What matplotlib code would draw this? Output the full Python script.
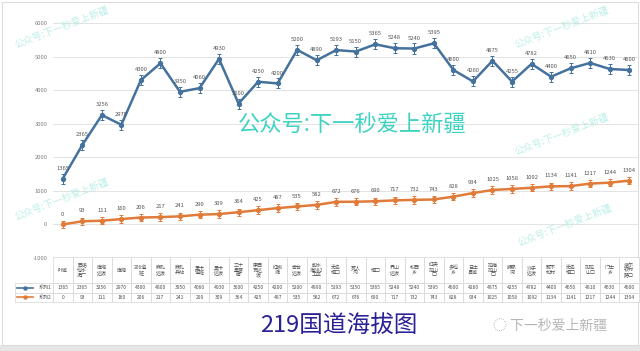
import matplotlib
matplotlib.use("Agg")
import matplotlib.pyplot as plt
from matplotlib.table import Table
from matplotlib.patches import Rectangle
import numpy as np

plt.rcParams['font.family'] = ['Noto Sans CJK SC', 'DejaVu Sans']

places = ['叶城', '西诺\n玛水\n泥厂', '库地\n达坂', '库地', '206道\n班', '麻扎\n达坂', '麻扎\n兵站',
          '黑卡\n道班', '黑卡\n达坂', '三十\n里营\n房', '康西\n瓦达\n坂', '红柳\n滩', '奇台\n达坂',
          '甜水\n海582\n工区', '无名\n垭口', '死人\n沟', '垭口', '界山\n达坂', '松西\n乡',
          '红央\n拉山\n口', '多玛\n乡', '日土\n县城', '拉梅\n拉山\n口', '狮泉\n河', '沙子\n达坂',
          '那不\n如村', '无名\n垭口', '加拉\n山口', '门士\n乡', '塔尔\n钦村\n路口']
altitude = [1365, 2365, 3256, 2970, 4300, 4800, 3950, 4060, 4930, 3600, 4250, 4200, 5200, 4890,
            5193, 5150, 5365, 5248, 5240, 5395, 4600, 4260, 4875, 4255, 4782, 4400, 4650, 4810,
            4630, 4600]
distance = [0, 93, 111, 160, 206, 217, 241, 290, 309, 364, 425, 487, 535, 582, 672, 676, 690,
            717, 732, 743, 828, 934, 1025, 1058, 1092, 1134, 1141, 1217, 1244, 1304]
series_names = ['系列1', '系列2']
yticks = [-1000, 0, 1000, 2000, 3000, 4000, 5000, 6000]

blue = '#44729d'
orange = '#e07b39'
W, H = 640, 351

fig = plt.figure(figsize=(6.4, 3.51), dpi=100)
fig.patch.set_facecolor('white')

# page frame and gray strip at bottom
fig.patches.append(Rectangle((0, 0), 1, 6 / H, transform=fig.transFigure,
                             facecolor='#e6e6e6', edgecolor='none', zorder=-10))
fig.patches.append(Rectangle((2 / W, 6 / H), 636 / W, 343 / H, transform=fig.transFigure,
                             facecolor='white', edgecolor='#dcdcdc', lw=0.8, zorder=-10))

ax = fig.add_axes([53 / W, 1 - 258 / H, 586 / W, 235 / H])
ax.set_facecolor('none')
x = np.arange(len(places))

ax.errorbar(x, altitude, yerr=150, color=blue, marker='o', ms=2.8, lw=1.8,
            elinewidth=0.7, capsize=1.6, capthick=0.7, zorder=3)
ax.errorbar(x, distance, yerr=110, color=orange, marker='o', ms=2.8, lw=1.8,
            elinewidth=0.7, capsize=1.6, capthick=0.7, zorder=3)

for xi, v in zip(x, altitude):
    ax.annotate(str(v), (xi, v), xytext=(0, 7.5), textcoords='offset points',
                ha='center', va='center', fontsize=4.2, color='#555555', zorder=4)
for xi, v in zip(x, distance):
    ax.annotate(str(v), (xi, v), xytext=(0, 7.5), textcoords='offset points',
                ha='center', va='center', fontsize=4.2, color='#555555', zorder=4)

ax.set_xlim(-0.5, len(places) - 0.5)
ax.set_ylim(-1000, 6000)
ax.set_yticks(yticks)
ax.set_yticklabels([str(t) for t in yticks], fontsize=4.2, color='#7f7f7f')
ax.set_xticks([])
ax.tick_params(axis='y', length=0, pad=4)
for s in ax.spines.values():
    s.set_visible(False)
ax.grid(axis='y', color='#dedede', lw=0.6)
ax.set_axisbelow(True)

# data table under the plot
aw, ah = 586.0, 235.0
tbl = Table(ax, bbox=[(15 - 53) / aw, (258 - 302) / ah, 624 / aw, 45 / ah])
col_w = 586 / len(places)
row_h = [26, 9.5, 9.5]
corner = tbl.add_cell(0, 0, width=38, height=row_h[0], text='')
corner.visible_edges = 'open'
for j, p in enumerate(places):
    tbl.add_cell(0, j + 1, width=col_w, height=row_h[0], text=p, loc='center')
for i, (name, vals) in enumerate(zip(series_names, [altitude, distance])):
    tbl.add_cell(i + 1, 0, width=38, height=row_h[i + 1], text=name, loc='right')
    for j, v in enumerate(vals):
        tbl.add_cell(i + 1, j + 1, width=col_w, height=row_h[i + 1], text=str(v), loc='center')
tbl.auto_set_font_size(False)
tbl.set_fontsize(3.6)
for (r, cidx), cell in tbl.get_celld().items():
    cell.set_edgecolor('#d4d4d4')
    cell.set_linewidth(0.5)
    cell.PAD = 0.04
    cell.get_text().set_color('#505050')
    cell.get_text().set_linespacing(0.95)
ax.add_table(tbl)

# legend keys inside the row header cells
for yc, col in [(287.5, blue), (297, orange)]:
    yy = (258 - yc) / ah
    ax.plot([(17 - 53) / aw, (33 - 53) / aw], [yy, yy], color=col, lw=1.2,
            transform=ax.transAxes, clip_on=False)
    ax.plot([(25 - 53) / aw], [yy], color=col, marker='o', ms=2.2,
            transform=ax.transAxes, clip_on=False)

# title and watermarks
fig.text(339 / W, 1 - 325 / H, '219国道海拔图', ha='center', va='center',
         fontsize=17, color='#2b2196')
fig.text(550 / W, 1 - 326 / H, '\u25cc 下一秒爱上新疆', ha='center', va='center',
         fontsize=10, color='#b5b5b5')
fig.text(352 / W, 1 - 124 / H, '公众号:下一秒爱上新疆', ha='center', va='center',
         fontsize=16, color='#3ed3c1', zorder=5)
for cx, cy in [(62, 27), (62, 199), (562, 27), (562, 134), (565, 225)]:
    fig.text(cx / W, 1 - cy / H, '公众号:下一秒爱上新疆', ha='center', va='center',
             fontsize=7, color='#a8e9e0', rotation=21, alpha=0.75, zorder=5)

fig.savefig('out.png', dpi=100)
